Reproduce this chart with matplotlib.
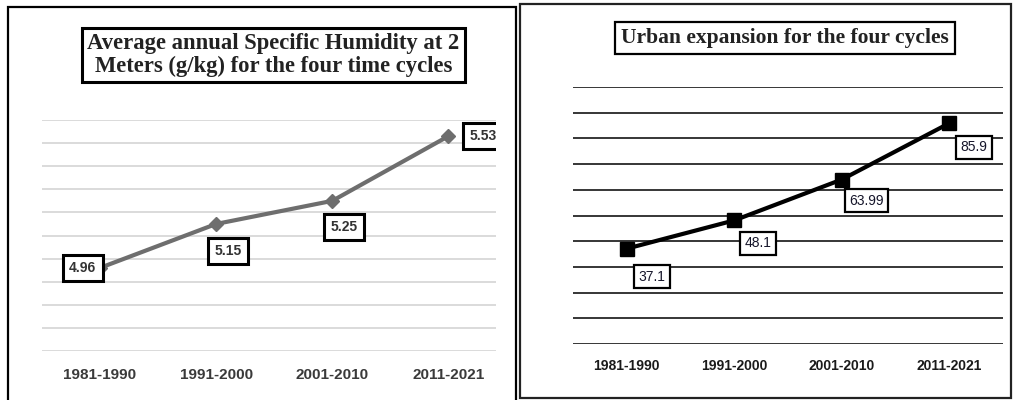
import matplotlib
matplotlib.use("Agg")
import matplotlib.pyplot as plt
from matplotlib import font_manager
from matplotlib.patches import Rectangle

# data
periods = ["1981-1990", "1991-2000", "2001-2010", "2011-2021"]
humidity = [4.96, 5.15, 5.25, 5.53]
urban = [37.1, 48.1, 63.99, 85.9]
humidity_labels = ["4.96", "5.15", "5.25", "5.53"]
urban_labels = ["37.1", "48.1", "63.99", "85.9"]
humidity_ticks = [4.6, 4.7, 4.8, 4.9, 5.0, 5.1, 5.2, 5.3, 5.4, 5.5, 5.6]
urban_ticks = [0, 10, 20, 30, 40, 50, 60, 70, 80, 90, 100]

names = {f.name for f in font_manager.fontManager.ttflist}
has_narrow = "Liberation Sans Narrow" in names
narrow = "Liberation Sans Narrow" if has_narrow else "Liberation Sans"
serif = "Liberation Serif"
sans = "Liberation Sans"

W, H = 1016, 400
fig = plt.figure(figsize=(W / 100, H / 100), dpi=100)


def px_axes(x0, y0, x1, y1):
    # pixel box (top-left origin) -> figure fraction
    return fig.add_axes([x0 / W, (H - y1) / H, (x1 - x0) / W, (y1 - y0) / H])


# panel borders
fig.add_artist(Rectangle((8 / W, -0.02), (516 - 8) / W, (H - 7) / H + 0.02,
                         transform=fig.transFigure, fill=False, ec="black", lw=1.6))
fig.add_artist(Rectangle((520 / W, (H - 398) / H), (1011 - 520) / W, (398 - 4) / H,
                         transform=fig.transFigure, fill=False, ec="#222222", lw=1.6))

# ---- left chart: specific humidity
ax1 = px_axes(42, 120, 496, 351)
ax1.plot(range(len(periods)), humidity, color="#6e6e6e", lw=3, marker="D", ms=7, zorder=3)
ax1.set_xlim(-0.5, 3.41)
ax1.set_ylim(humidity_ticks[0], humidity_ticks[-1])
ax1.set_yticks(humidity_ticks)
ax1.set_yticklabels([])
ax1.yaxis.grid(True, color="#d4d4d4", lw=1.2)
ax1.set_axisbelow(True)
ax1.set_xticks(range(len(periods)))
ax1.set_xticklabels(periods, fontfamily=sans, fontweight="bold", fontsize=11, color="#3a3a3a")
ax1.tick_params(length=0, pad=12)
for s in ax1.spines.values():
    s.set_visible(False)

off1 = [(-12.5, 0), (8.6, -19.5), (8.6, -19), (25, 0)]
for i, (v, t) in enumerate(zip(humidity, humidity_labels)):
    ax1.annotate(t, (i, v), xytext=off1[i], textcoords="offset points",
                 ha="center", va="center", fontfamily=sans, fontweight="bold",
                 fontsize=10, color="#333333", zorder=4, annotation_clip=False,
                 clip_on=True,
                 bbox=dict(boxstyle="square,pad=0.45", fc="white", ec="black", lw=2.2))

fig.text(273.5 / W, (H - 55) / H,
         "Average annual Specific Humidity at 2\nMeters (g/kg) for the four time cycles",
         ha="center", va="center", fontfamily=serif, fontweight="bold", fontsize=16.3,
         color="#222222", linespacing=1.15,
         bbox=dict(boxstyle="square,pad=0.22", fc="white", ec="black", lw=2.2))

# ---- right chart: urban expansion
ax2 = px_axes(573, 87, 1003, 344)
ax2.plot(range(len(periods)), urban, color="black", lw=3, marker="s", ms=10.5, zorder=3)
ax2.set_xlim(-0.5, 3.5)
ax2.set_ylim(urban_ticks[0], urban_ticks[-1])
ax2.set_yticks(urban_ticks)
ax2.set_yticklabels([])
ax2.yaxis.grid(True, color="black", lw=1.1)
ax2.set_axisbelow(True)
ax2.set_xticks(range(len(periods)))
ax2.set_xticklabels(periods, fontfamily=narrow, fontweight="bold",
                    fontsize=11 if has_narrow else 10, color="#1a1a1a")
ax2.tick_params(length=0, pad=11)
for s in ax2.spines.values():
    s.set_visible(False)

off2 = [(18.4, -20.2), (17.3, -16.6), (17.7, -15.1), (18, -17.3)]
for i, (v, t) in enumerate(zip(urban, urban_labels)):
    ax2.annotate(t, (i, v), xytext=off2[i], textcoords="offset points",
                 ha="center", va="center", fontfamily=narrow,
                 fontsize=11 if has_narrow else 10,
                 color="#15152a", zorder=4,
                 bbox=dict(boxstyle="square,pad=0.32", fc="white", ec="black", lw=1.6))

fig.text(785 / W, (H - 38) / H, "Urban expansion for the four cycles",
         ha="center", va="center", fontfamily=serif, fontweight="bold", fontsize=15.5,
         color="#222222",
         bbox=dict(boxstyle="square,pad=0.3", fc="white", ec="black", lw=1.6))

fig.savefig("out.png", dpi=100)
